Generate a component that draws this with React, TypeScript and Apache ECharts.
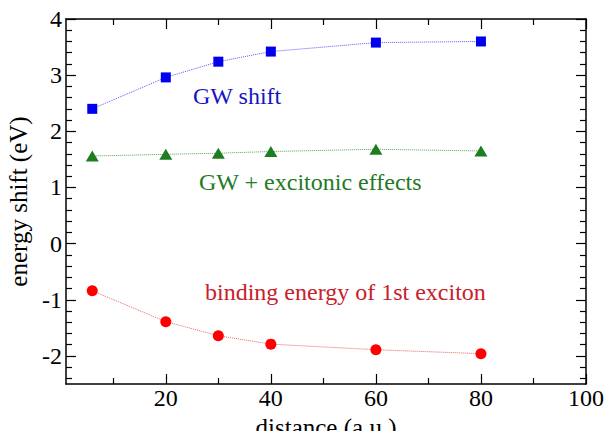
import React, { useEffect, useRef } from "react";
import * as echarts from "echarts";

const distances = [6, 20, 30, 40, 60, 80];
const gwShift = [2.40, 2.96, 3.24, 3.42, 3.58, 3.60];
const gwExcitonic = [1.56, 1.59, 1.61, 1.64, 1.68, 1.65];
const bindingEnergy = [-0.84, -1.39, -1.64, -1.79, -1.89, -1.96];

const xMajorTicks = [20, 40, 60, 80, 100];
const xMinorTicks = [10, 30, 50, 70, 90];
const yMajorTicks = [-2, -1, 0, 1, 2, 3, 4];
const yMinorTicks = [
  -2.4, -2.2, -1.8, -1.6, -1.4, -1.2, -0.8, -0.6, -0.4, -0.2,
  0.2, 0.4, 0.6, 0.8, 1.2, 1.4, 1.6, 1.8, 2.2, 2.4, 2.6, 2.8,
  3.2, 3.4, 3.6, 3.8,
];

const FONT = "Liberation Serif";

const pairs = (ys: number[]) => distances.map((x, i) => [x, ys[i]]);

export default function App() {
  const ref = useRef<HTMLDivElement>(null);
  useEffect(() => {
    if (!ref.current) return;
    const chart = echarts.init(ref.current, undefined, { renderer: "svg" });
    const axisLine = { show: true, onZero: false, lineStyle: { color: "#000", width: 1.5 } };
    const noLine = { show: false, onZero: false };
    const mkX = (position: string, ticks: number[], len: number, labels: boolean, showLine: boolean) => ({
      type: "value",
      position,
      min: 1,
      max: 100,
      axisLine: showLine ? axisLine : noLine,
      axisTick: {
        show: true,
        inside: true,
        length: len,
        customValues: ticks,
        lineStyle: { color: "#000", width: 1.2 },
      },
      axisLabel: labels
        ? {
            show: true,
            customValues: ticks,
            fontFamily: FONT,
            fontSize: 24,
            color: "#000",
            margin: 2,
          }
        : { show: false },
      splitLine: { show: false },
    });
    const mkY = (position: string, ticks: number[], len: number, labels: boolean, showLine: boolean) => ({
      type: "value",
      position,
      min: -2.5,
      max: 4,
      axisLine: showLine ? axisLine : noLine,
      axisTick: {
        show: true,
        inside: true,
        length: len,
        customValues: ticks,
        lineStyle: { color: "#000", width: 1.2 },
      },
      axisLabel: labels
        ? {
            show: true,
            customValues: ticks,
            fontFamily: FONT,
            fontSize: 24,
            color: "#000",
            margin: 4,
          }
        : { show: false },
      splitLine: { show: false },
    });

    const xMain: any = mkX("bottom", xMajorTicks, 10, true, true);
    xMain.name = "distance (a.u.)";
    xMain.nameLocation = "middle";
    xMain.nameGap = 24;
    xMain.nameTextStyle = { fontFamily: FONT, fontSize: 25, color: "#000" };

    const yMain: any = mkY("left", yMajorTicks, 10, true, true);
    yMain.name = "energy shift (eV)";
    yMain.nameLocation = "middle";
    yMain.nameGap = 27;
    yMain.nameTextStyle = { fontFamily: FONT, fontSize: 25, color: "#000" };

    const lineStyle = (c: string) => ({ color: c, width: 1, type: "dotted", opacity: 0.8 });

    chart.setOption({
      animation: false,
      backgroundColor: "#fff",
      grid: { left: 66, right: 20, top: 19, bottom: 47, containLabel: false, outerBoundsMode: "none" },
      xAxis: [
        xMain,
        mkX("bottom", xMinorTicks, 6, false, false),
        mkX("top", xMajorTicks, 10, false, true),
        mkX("top", xMinorTicks, 6, false, false),
      ],
      yAxis: [
        yMain,
        mkY("left", yMinorTicks, 6, false, false),
        mkY("right", yMajorTicks, 10, false, true),
        mkY("right", yMinorTicks, 6, false, false),
      ],
      series: [
        {
          type: "line",
          data: pairs(gwShift),
          symbol: "rect",
          symbolSize: 10,
          itemStyle: { color: "#0000ee" },
          lineStyle: lineStyle("#3030ee"),
        },
        {
          type: "line",
          data: pairs(gwExcitonic),
          symbol: "triangle",
          symbolSize: [13, 11],
          itemStyle: { color: "#1e7d1e" },
          lineStyle: lineStyle("#2a8a2a"),
        },
        {
          type: "line",
          data: pairs(bindingEnergy),
          symbol: "circle",
          symbolSize: 11,
          itemStyle: { color: "#ff0000" },
          lineStyle: lineStyle("#e04040"),
        },
      ],
      graphic: [
        {
          type: "text",
          style: {
            x: 193,
            y: 96,
            text: "GW shift",
            fontFamily: FONT,
            fontSize: 24,
            fill: "#1414c8",
            textVerticalAlign: "middle",
          },
        },
        {
          type: "text",
          style: {
            x: 199,
            y: 182,
            text: "GW + excitonic effects",
            fontFamily: FONT,
            fontSize: 24,
            fill: "#237a23",
            textVerticalAlign: "middle",
          },
        },
        {
          type: "text",
          style: {
            x: 205,
            y: 292,
            text: "binding energy of 1st exciton",
            fontFamily: FONT,
            fontSize: 24,
            fill: "#c8202c",
            textVerticalAlign: "middle",
          },
        },
      ],
    });
    return () => chart.dispose();
  }, []);
  return <div ref={ref} style={{ width: 606, height: 431, position: "absolute", left: 0, top: 0 }} />;
}
